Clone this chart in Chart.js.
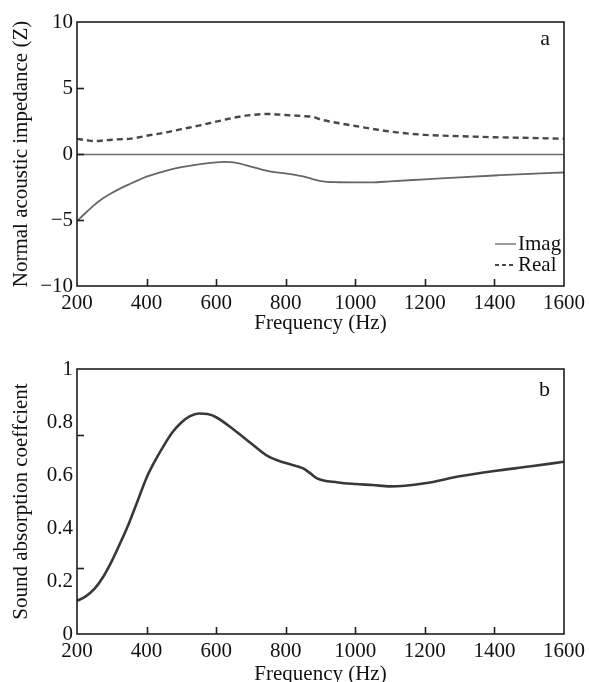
<!DOCTYPE html>
<html>
<head>
<meta charset="utf-8">
<script src="https://cdn.jsdelivr.net/npm/chart.js@4"></script>
<style>
  html, body { margin: 0; padding: 0; background: #fff; }
  #wrap { width: 590px; height: 682px; overflow: hidden; }
  canvas { display: block; }
</style>
</head>
<body>
<div id="wrap">
  <canvas id="ca" width="590" height="340"></canvas>
  <canvas id="cb" width="590" height="342"></canvas>
</div>
<script>
// ---- Data (panel a: normal acoustic impedance) ----
const freqA = [200, 225, 250, 275, 300, 325, 350, 375, 400, 450, 500, 550, 600, 625, 650, 700, 750, 800, 850, 880, 900, 950, 1000, 1050, 1100, 1200, 1300, 1400, 1500, 1600];
const imagZ = [-5.1, -4.45, -3.85, -3.35, -2.95, -2.6, -2.3, -2.0, -1.72, -1.32, -1.0, -0.78, -0.63, -0.6, -0.64, -0.95, -1.3, -1.47, -1.7, -1.92, -2.06, -2.14, -2.15, -2.15, -2.07, -1.92, -1.77, -1.63, -1.5, -1.4];
const realZ = [1.15, 1.05, 0.98, 1.02, 1.08, 1.12, 1.15, 1.25, 1.38, 1.6, 1.88, 2.15, 2.45, 2.6, 2.75, 2.95, 3.03, 2.95, 2.87, 2.8, 2.62, 2.35, 2.12, 1.9, 1.7, 1.45, 1.35, 1.27, 1.22, 1.15];
const seriesNamesA = ["Imag", "Real"];

// ---- Data (panel b: sound absorption coefficient) ----
const freqB = [200, 225, 250, 275, 300, 325, 350, 375, 400, 425, 450, 475, 500, 525, 550, 575, 600, 650, 700, 750, 800, 850, 870, 890, 950, 1000, 1050, 1100, 1200, 1300, 1400, 1500, 1600];
const absorption = [0.125, 0.142, 0.17, 0.215, 0.275, 0.345, 0.42, 0.505, 0.59, 0.655, 0.712, 0.762, 0.798, 0.822, 0.832, 0.83, 0.818, 0.772, 0.72, 0.67, 0.645, 0.625, 0.607, 0.587, 0.572, 0.566, 0.562, 0.557, 0.569, 0.595, 0.615, 0.632, 0.65];
const titleB = "Sound absorption coeffcient";

// ---- Ticks ----
const xTickValues = [200, 400, 600, 800, 1000, 1200, 1400, 1600];
const xTickMarks = [400, 600, 800, 1000, 1200, 1400];
const yTicksA = [-10, -5, 0, 5, 10];
const yTickMarksA = [-5, 0, 5];
const yTicksB = [0, 0.2, 0.4, 0.6, 0.8, 1];
const yTickMarksB = [0.25, 0.75];
const panelLetters = ["a", "b"];

const FONT = "'Liberation Serif', 'Times New Roman', serif";
const FS = 21;
const AXIS_COLOR = "#1e1e1e";

function toPoints(xs, ys) { return xs.map((x, i) => ({ x: x, y: ys[i] })); }

function framePlugin(opts) {
  return {
    id: 'frame_' + opts.letter,
    beforeDatasetsDraw(chart) {
      const ctx = chart.ctx, a = chart.chartArea;
      const ys = chart.scales.y;
      ctx.save();
      if (opts.zeroLine) {
        const y0 = Math.round(ys.getPixelForValue(0)) + 0.5;
        ctx.strokeStyle = "#6e6e6e";
        ctx.lineWidth = 1.3;
        ctx.beginPath(); ctx.moveTo(a.left, y0); ctx.lineTo(a.right, y0); ctx.stroke();
      }
      ctx.restore();
    },
    afterDatasetsDraw(chart) {
      const ctx = chart.ctx, a = chart.chartArea;
      const xs = chart.scales.x, ys = chart.scales.y;
      ctx.save();
      ctx.strokeStyle = AXIS_COLOR;
      ctx.lineWidth = 1.6;
      ctx.strokeRect(a.left, a.top, a.right - a.left, a.bottom - a.top);
      opts.xMarks.forEach(v => {
        const px = Math.round(xs.getPixelForValue(v)) + 0.5;
        ctx.beginPath(); ctx.moveTo(px, a.bottom); ctx.lineTo(px, a.bottom - 7); ctx.stroke();
      });
      opts.yMarks.forEach(v => {
        const py = Math.round(ys.getPixelForValue(v)) + 0.5;
        ctx.beginPath(); ctx.moveTo(a.left, py); ctx.lineTo(a.left + 7, py); ctx.stroke();
      });
      ctx.fillStyle = "#111";
      ctx.font = "22px " + FONT;
      ctx.textAlign = "right";
      ctx.textBaseline = "middle";
      ctx.fillText(opts.letter, a.right - 14, a.top + opts.letterDy);
      if (opts.legend) {
        const ds = chart.data.datasets;
        ctx.font = FS + "px " + FONT;
        ctx.textAlign = "left";
        ctx.textBaseline = "middle";
        ds.forEach((d, i) => {
          const ly = a.bottom - 42 + i * 21;
          const tx = a.right - 46;
          const lx0 = tx - 23, lx1 = tx - 2;
          ctx.strokeStyle = d.borderColor;
          ctx.lineWidth = i === 0 ? 1.3 : 1.8;
          ctx.setLineDash(i === 0 ? [] : [4, 3]);
          ctx.beginPath(); ctx.moveTo(lx0, ly); ctx.lineTo(lx1, ly); ctx.stroke();
          ctx.setLineDash([]);
          ctx.fillStyle = "#111";
          ctx.fillText(d.label, tx, ly);
        });
      }
      ctx.restore();
    }
  };
}

function baseScales(yMin, yMax, yTicks, yTitle, xHeight, yFmt, xTitleBottom) {
  return {
    x: {
      type: 'linear', min: 200, max: 1600,
      afterBuildTicks: s => { s.ticks = xTickValues.map(v => ({ value: v })); },
      afterFit: s => { s.height = xHeight; },
      grid: { display: false, drawTicks: false },
      border: { display: false },
      ticks: { color: "#111", font: { family: FONT, size: FS }, padding: 5, maxRotation: 0, autoSkip: false, callback: v => String(v) },
      title: { display: true, text: "Frequency (Hz)", color: "#111", font: { family: FONT, size: FS }, padding: { top: 0, bottom: xTitleBottom } }
    },
    y: {
      type: 'linear', min: yMin, max: yMax,
      afterBuildTicks: s => { s.ticks = yTicks.map(v => ({ value: v })); },
      afterFit: s => { s.width = 77; },
      grid: { display: false, drawTicks: false },
      border: { display: false },
      ticks: { color: "#111", font: { family: FONT, size: FS }, padding: 4, callback: yFmt },
      title: { display: true, text: yTitle, color: "#111", font: { family: FONT, size: FS }, padding: { top: 9, bottom: 0 } }
    }
  };
}

const minusFmt = v => (v < 0 ? "\u2212" + Math.abs(v) : String(v));

new Chart(document.getElementById('ca'), {
  type: 'line',
  data: {
    datasets: [
      { label: seriesNamesA[0], data: toPoints(freqA, imagZ), borderColor: "#666666", borderWidth: 1.8, pointRadius: 0, cubicInterpolationMode: 'monotone', fill: false },
      { label: seriesNamesA[1], data: toPoints(freqA, realZ), borderColor: "#484848", borderWidth: 2.4, borderDash: [6, 4], pointRadius: 0, cubicInterpolationMode: 'monotone', fill: false }
    ]
  },
  options: {
    responsive: false, animation: false, devicePixelRatio: 1,
    layout: { padding: { left: 0, right: 23, top: 22, bottom: 0 } },
    plugins: { legend: { display: false }, tooltip: { enabled: false } },
    scales: baseScales(-10, 10, yTicksA, "Normal acoustic impedance (Z)", 54, minusFmt, 4)
  },
  plugins: [framePlugin({ letter: panelLetters[0], letterDy: 17, zeroLine: true, legend: true, xMarks: xTickMarks, yMarks: yTickMarksA })]
});

new Chart(document.getElementById('cb'), {
  type: 'line',
  data: {
    datasets: [
      { label: titleB, data: toPoints(freqB, absorption), borderColor: "#383838", borderWidth: 2.6, pointRadius: 0, cubicInterpolationMode: 'monotone', fill: false }
    ]
  },
  options: {
    responsive: false, animation: false, devicePixelRatio: 1,
    layout: { padding: { left: 0, right: 23, top: 29, bottom: 0 } },
    plugins: { legend: { display: false }, tooltip: { enabled: false } },
    scales: baseScales(0, 1, yTicksB, titleB, 48, v => String(v), -5)
  },
  plugins: [framePlugin({ letter: panelLetters[1], letterDy: 21, zeroLine: false, legend: false, xMarks: xTickMarks, yMarks: yTickMarksB })]
});
</script>
</body>
</html>
